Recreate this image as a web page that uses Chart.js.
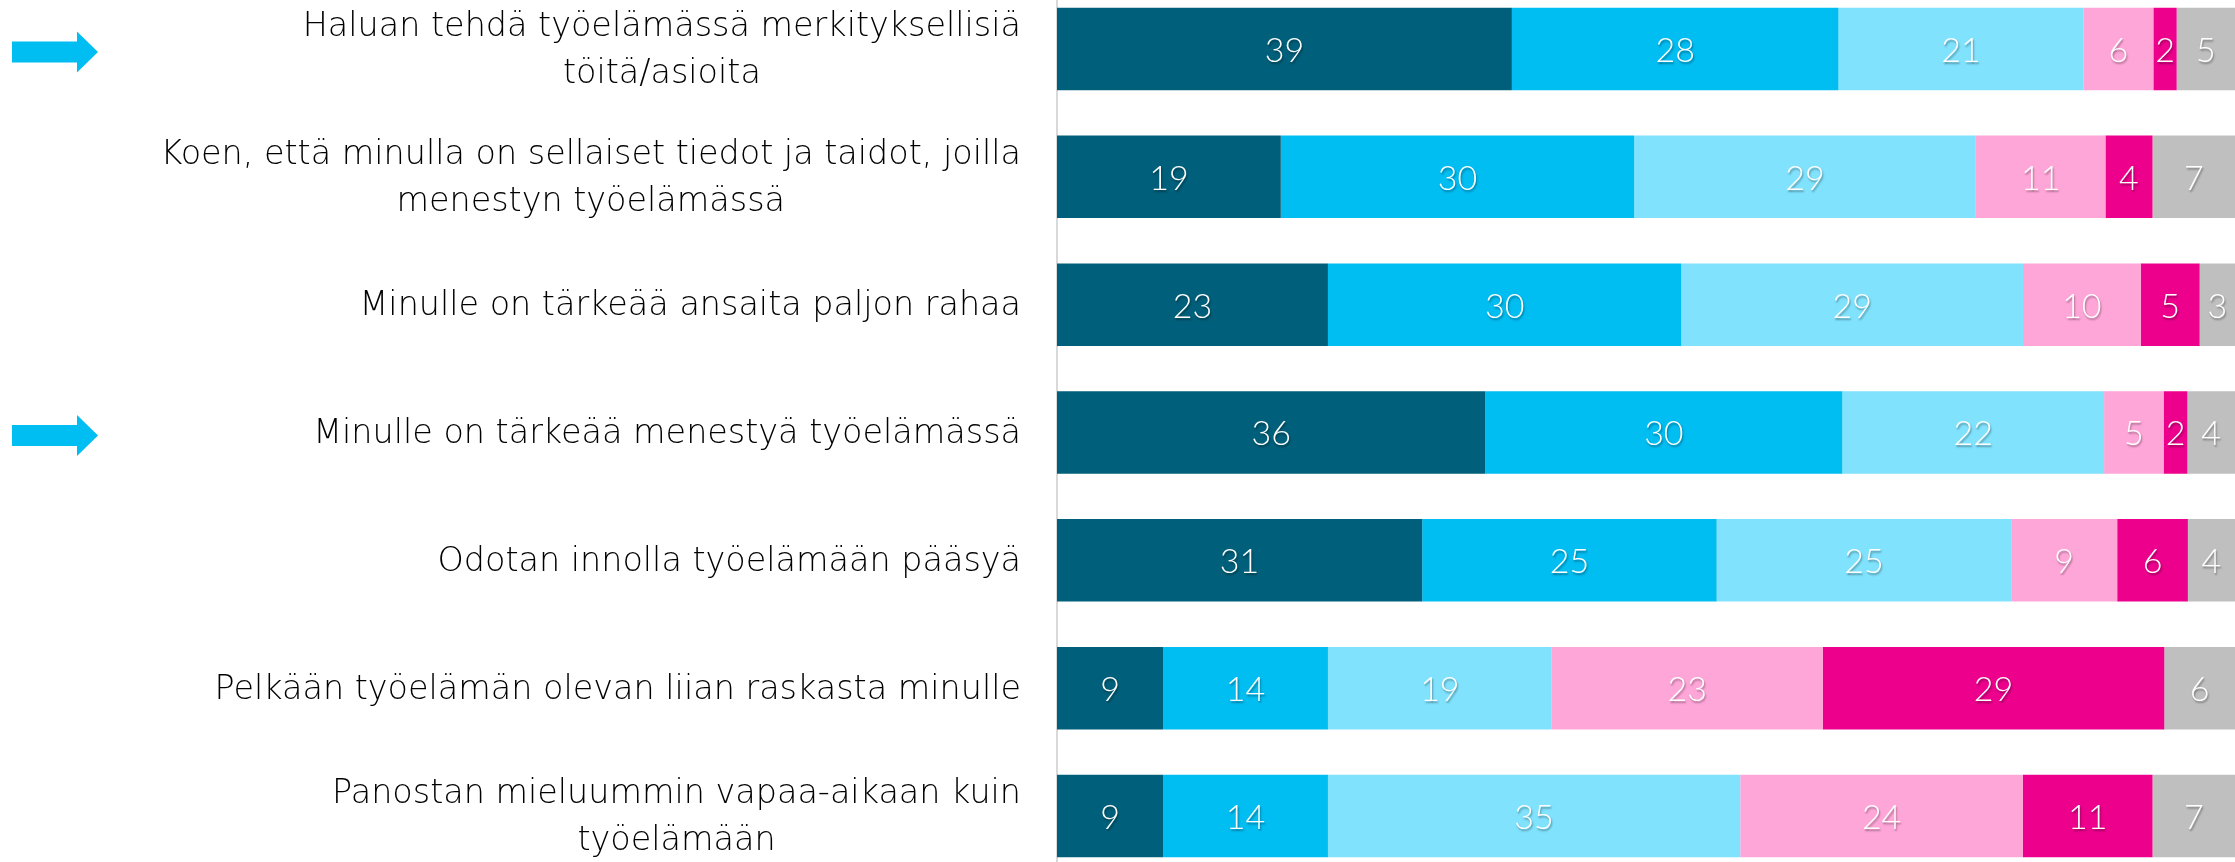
<!DOCTYPE html>
<html>
<head>
<meta charset="utf-8">
<script src="https://cdn.jsdelivr.net/npm/chart.js@4"></script>
<style>
html, body { margin:0; padding:0; background:#fff; overflow:hidden; }
#wrap { position:absolute; left:0; top:-15px; width:2235px; height:895px; }
</style>
</head>
<body>
<div id="wrap"><canvas id="chart"></canvas></div>
<script>

/* DATA */

const categories = [
["Haluan tehdä työelämässä merkityksellisiä", "töitä/asioita"],
["Koen, että minulla on sellaiset tiedot ja taidot, joilla", "menestyn työelämässä"],
["Minulle on tärkeää ansaita paljon rahaa"],
["Minulle on tärkeää menestyä työelämässä"],
["Odotan innolla työelämään pääsyä"],
["Pelkään työelämän olevan liian raskasta minulle"],
["Panostan mieluummin vapaa-aikaan kuin", "työelämään"]
];

const stronglyAgree    = [39, 19, 23, 36, 31,  9,  9];
const agree            = [28, 30, 30, 30, 25, 14, 14];
const neutral          = [21, 29, 29, 22, 25, 19, 35];
const disagree         = [ 6, 11, 10,  5,  9, 23, 24];
const stronglyDisagree = [ 2,  4,  5,  2,  6, 29, 11];
const cantSay          = [ 5,  7,  3,  4,  4,  6,  7];

// rows marked with an arrow on the left
const highlighted = [0, 3];

const series = [stronglyAgree, agree, neutral, disagree, stronglyDisagree, cantSay];
const colors = ["#005F7A", "#00BDF2", "#80E2FD", "#FFA6D9", "#EC008C", "#BFBFBF"];

const LABEL_FONT = "200 33.4px 'DejaVu Sans', sans-serif";
const VALUE_FONT = "300 34px Lato, sans-serif";
const AXIS_X = 1057;
const LABEL_RIGHT = 1021;
const LINE_H = 47;


/* each row is shown as shares of its own total */

const rowTotals = categories.map((c, i) => series.reduce((s, arr) => s + arr[i], 0));

const datasets = series.map((arr, k) => ({
data: arr.map((v, i) => v / rowTotals[i] * 100),
raw: arr,
backgroundColor: colors[k],
borderWidth: 0,
barPercentage: 0.645,
categoryPercentage: 1
}));


/* PLUGINS */

function drawArrow(ctx, yc){
ctx.fillStyle = "#00BEF2";
ctx.beginPath();
ctx.moveTo(12, yc - 10.5);
ctx.lineTo(77, yc - 10.5);
ctx.lineTo(77, yc - 20.5);
ctx.lineTo(98, yc);
ctx.lineTo(77, yc + 20.5);
ctx.lineTo(77, yc + 10.5);
ctx.lineTo(12, yc + 10.5);
ctx.closePath();
ctx.fill();
}

const rowLabels = {
id: "rowLabels",
afterDraw(chart){
const ctx = chart.ctx;
const y = chart.scales.y;
ctx.save();
ctx.font = LABEL_FONT;
ctx.textAlign = "center";
ctx.textBaseline = "middle";
categories.forEach((lines, i) => {
const yc = y.getPixelForValue(i) + 2;
const w = Math.max(...lines.map(l => ctx.measureText(l).width));
const cx = LABEL_RIGHT - w / 2;
ctx.fillStyle = "#000";
lines.forEach((l, k) => {
ctx.fillText(l, cx, yc + (k - (lines.length - 1) / 2) * LINE_H);
});
if(highlighted.includes(i)) drawArrow(ctx, yc + 1);
});
ctx.restore();
}
};

const valueLabels = {
id: "valueLabels",
afterDatasetsDraw(chart){
const ctx = chart.ctx;
ctx.save();
ctx.font = VALUE_FONT;
ctx.textAlign = "center";
ctx.textBaseline = "middle";
ctx.fillStyle = "#fff";
ctx.shadowColor = "rgba(0,0,0,0.35)";
ctx.shadowOffsetX = 1;
ctx.shadowOffsetY = 2;
ctx.shadowBlur = 2;
chart.data.datasets.forEach((ds, k) => {
chart.getDatasetMeta(k).data.forEach((bar, i) => {
ctx.fillText(String(ds.raw[i]), (bar.x + bar.base) / 2, bar.y + 2);
});
});
ctx.restore();
}
};


/* CHART */

function initChart(){

new Chart(document.getElementById("chart"), {
type: "bar",
data: {
labels: categories.map(c => c.join(" ")),
datasets: datasets
},
options: {
indexAxis: "y",
responsive: true,
maintainAspectRatio: false,
animation: false,
layout: { padding: 0 },
plugins: { legend: { display: false }, tooltip: { enabled: false } },
scales: {
x: { stacked: true, min: 0, max: 100, display: false },
y: {
stacked: true,
ticks: { display: false },
grid: { display: false },
border: { display: true, color: "#D9D9D9", width: 2 },
afterFit(s){ s.width = AXIS_X; }
}
}
},
plugins: [rowLabels, valueLabels]
});

}

Promise.all([
document.fonts.load(LABEL_FONT),
document.fonts.load(VALUE_FONT)
]).then(initChart, initChart);

</script>
</body>
</html>
